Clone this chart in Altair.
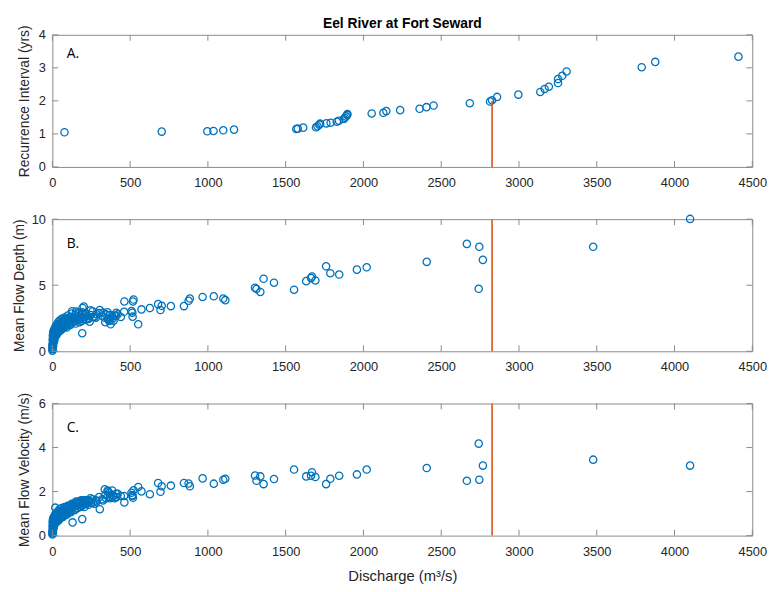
import altair as alt
import pandas as pd

# ---------------- data ----------------
chart_title = "Eel River at Fort Seward"
x_ticks = [0, 500, 1000, 1500, 2000, 2500, 3000, 3500, 4000, 4500]

# Panel A: recurrence interval
ri_q = [78, 703, 996, 1036, 1099, 1168, 1568, 1578, 1613, 1695, 1705, 1716,
        1722, 1762, 1789, 1829, 1842, 1874, 1880, 1888, 1895, 1897, 2053,
        2128, 2147, 2236, 2361, 2405, 2451, 2684, 2814, 2827, 2859, 2996,
        3137, 3165, 3192, 3251, 3251, 3278, 3306, 3789, 3876, 4411]
ri_yrs = [1.05, 1.07, 1.08, 1.09, 1.11, 1.13, 1.15, 1.16, 1.19, 1.20, 1.23,
          1.28, 1.31, 1.32, 1.34, 1.37, 1.40, 1.45, 1.49, 1.53, 1.57, 1.60,
          1.62, 1.64, 1.69, 1.72, 1.76, 1.81, 1.86, 1.93, 1.98, 2.02, 2.12,
          2.19, 2.27, 2.36, 2.43, 2.54, 2.66, 2.76, 2.89, 3.02, 3.18, 3.34]

# Panels B and C: hydraulic geometry measurements
q_meas = [4100, 3477, 2768, 2745, 2741, 2665, 2407,
          2021, 1958, 1844, 1787, 1760, 1691, 1669, 1663, 1632, 1554, 1425,
          1358, 1337, 1312, 1303, 1112, 1099, 1038, 966, 884, 876, 846, 762,
          703, 695, 680, 627, 573, 552, 522, 518, 514, 516, 509, 463, 461,
          0.5, 1, 1.5, 2, 2.5, 3, 4, 5, 6, 7, 8, 9, 10, 11, 12, 13, 14, 15,
          16, 17, 18, 19, 20, 22, 24, 26, 28, 30, 32, 34, 36, 38, 40, 42, 44,
          46, 48, 50, 53, 56, 59, 62, 65, 68, 71, 74, 77, 80, 84, 88, 92, 96,
          100, 105, 110, 115, 120, 126, 130, 135, 140, 145, 150, 155, 160,
          165, 170, 175, 180, 185, 190, 192, 194, 198, 200, 202, 206, 210,
          215, 220, 230, 240, 248, 259, 270, 285, 305, 326, 337, 345, 358,
          365, 373, 375, 385, 394, 400, 411, 420, 440]
depth_m = [10.02, 7.91, 6.92, 7.91, 4.73, 8.13, 6.77,
           6.36, 6.18, 5.81, 5.91, 6.43, 5.36, 5.66, 5.54, 5.31, 4.66, 5.19,
           5.49, 4.49, 4.71, 4.81, 3.87, 3.99, 4.16, 4.11, 3.99, 3.82, 3.42,
           3.42, 3.44, 3.12, 3.57, 3.27, 3.17, 2.04, 3.92, 3.77, 2.92, 2.62,
           3.04, 3.77, 2.99,
           0.05, 0.15, 0.30, 0.45, 0.20, 0.60, 0.75, 0.50, 0.90, 1.00, 0.70,
           1.10, 1.20, 0.90, 1.30, 1.05, 1.40, 1.20, 1.50, 1.30, 1.55, 1.10,
           1.60, 1.40, 1.70, 1.50, 1.75, 1.30, 1.80, 1.60, 1.90, 1.45, 1.85,
           1.70, 2.00, 1.55, 1.95, 1.80, 2.10, 1.65, 2.05, 1.90, 2.20, 1.75,
           2.15, 2.00, 2.40, 1.85, 2.25, 2.10, 2.50, 1.95, 2.30, 2.15, 2.55,
           2.00, 2.40, 3.03, 2.20, 2.60, 2.30, 2.75, 2.10, 2.50, 2.35, 2.85,
           2.45, 2.20, 2.70, 2.55, 2.30, 1.37, 3.28, 2.60, 2.45, 3.38, 2.75,
           2.90, 2.40, 2.65, 2.50, 2.24, 2.74, 3.02, 2.60, 2.80, 3.12, 2.94,
           2.55, 2.79, 2.45, 2.30, 2.39, 2.04, 2.70, 2.32, 2.69, 2.92, 2.80,
           2.60]
velocity_ms = [3.18, 3.45, 3.18, 2.54, 4.18, 2.49, 3.07,
               3.00, 2.78, 2.72, 2.58, 2.34, 2.66, 2.88, 2.72, 2.69, 3.00,
               2.57, 2.34, 2.69, 2.49, 2.73, 2.58, 2.54, 2.36, 2.60, 2.24,
               2.37, 2.39, 2.27, 2.24, 1.99, 2.39, 1.88, 2.01, 2.21, 2.06,
               1.72, 1.84, 1.80, 1.95, 1.51, 1.80,
               0.05, 0.10, 0.15, 0.20, 0.30, 0.25, 0.35, 0.40, 0.30, 0.45,
               0.50, 0.40, 0.55, 0.60, 0.50, 0.65, 0.55, 0.70, 0.60, 0.75,
               0.65, 1.27, 0.70, 0.80, 0.70, 0.85, 0.75, 0.90, 0.65, 0.85,
               0.95, 0.80, 1.00, 0.75, 0.90, 1.00, 0.85, 1.05, 0.95, 1.10,
               0.90, 1.00, 1.15, 0.85, 1.05, 1.20, 0.95, 1.10, 1.25, 1.00,
               1.15, 1.30, 1.05, 1.20, 1.35, 1.10, 1.25, 1.40, 0.60, 1.30,
               1.45, 1.20, 1.35, 1.50, 1.25, 1.40, 1.55, 1.30, 1.45, 1.60,
               1.35, 0.75, 1.50, 1.60, 1.40, 1.55, 1.30, 1.50, 1.60, 1.45,
               1.60, 1.57, 1.50, 1.65, 1.45, 1.55, 1.20, 1.60, 2.10, 1.70,
               2.00, 1.95, 1.75, 1.85, 2.05, 1.80, 1.70, 1.75, 1.90, 1.80]

# additional low-flow measurements (dense cluster near the origin)
q_low = [1, 2, 3, 4, 5, 6, 8, 10, 12, 15, 18, 21, 25, 29, 33, 37, 41, 45, 49,
         55, 60, 66, 72, 78, 85, 92, 99, 107, 116, 125, 134, 143, 152, 161,
         170, 180, 190, 205, 218, 232, 245, 260, 280, 300, 320, 340, 355, 370,
         390, 410]
depth_low = [0.5, 0.9, 1.2, 0.35, 1.4, 1.1, 1.5, 1.6, 0.8, 1.7, 1.45, 1.9,
             1.25, 2.05, 1.65, 2.2, 1.5, 2.3, 2.1, 1.6, 2.45, 2.25, 1.9, 2.55,
             2.35, 1.8, 2.7, 2.45, 2.05, 2.85, 2.55, 2.25, 3.0, 2.65, 2.9, 2.4,
             2.95, 2.6, 2.85, 2.45, 3.1, 2.6, 2.55, 2.9, 2.7, 2.2, 2.95, 2.75,
             2.5, 2.7]
velocity_low = [0.45, 0.6, 0.7, 0.15, 0.75, 0.65, 0.8, 0.85, 0.5, 0.9, 0.7,
                1.0, 0.6, 1.05, 0.8, 1.1, 0.7, 1.2, 1.0, 0.8, 1.25, 1.05, 0.9,
                1.3, 1.15, 0.95, 1.35, 1.2, 1.05, 1.45, 1.3, 1.15, 1.55, 1.4,
                1.5, 1.3, 1.55, 1.45, 1.6, 1.4, 1.7, 1.5, 1.6, 1.75, 1.65,
                1.85, 2.05, 1.7, 1.8, 1.9]

two_year_q = [2827]
two_year_ri = [2.0]

# ---------------- style ----------------
W, H = 710, 134
TL = 6
FRAME = "#8a8a8a"
TXT = "#262626"
BLUE = "#0072BD"
ORANGE = "#D95319"
FONT = "Liberation Sans"


def make_panel(pts, y_ticks, y_title, title_x, label, label_y, red_df, red_span,
               x_title=None, top_title=None):
    xscale = alt.Scale(domain=[0, 4500], nice=False, zero=False)
    yscale = alt.Scale(domain=[y_ticks[0], y_ticks[-1]], nice=False, zero=False)
    xkw = dict(values=x_ticks, format="d", ticks=False, domain=False,
               grid=False, labelPadding=10, labelFlush=False, labelFont=FONT,
               labelFontSize=13, labelColor=TXT)
    if x_title:
        xaxis = alt.Axis(title=x_title, titleY=46, titleBaseline="alphabetic",
                         titleFont=FONT, titleFontSize=15,
                         titleFontWeight="normal", titleColor=TXT, **xkw)
    else:
        xaxis = alt.Axis(title=None, **xkw)
    yaxis = alt.Axis(title=y_title, values=y_ticks, format="d", ticks=False,
                     domain=False, grid=False, labelPadding=7, labelFont=FONT,
                     labelFontSize=13, labelColor=TXT, titleX=title_x,
                     titleY=H / 2, titleBaseline="alphabetic", titleFont=FONT,
                     titleFontSize=14, titleFontWeight="normal",
                     titleColor=TXT)

    X = alt.X("q:Q", scale=xscale, axis=xaxis)
    Y = alt.Y("val:Q", scale=yscale, axis=yaxis)

    points = alt.Chart(pts).mark_point(
        shape="circle", filled=False, size=55, strokeWidth=1.3,
        color=BLUE, opacity=1
    ).encode(x=X, y=Y)

    if red_span:
        red = alt.Chart(red_df).mark_rule(color=ORANGE, strokeWidth=1.6).encode(
            x=X, y=Y, y2="val2:Q")
    else:
        red = alt.Chart(red_df).mark_rule(color=ORANGE, strokeWidth=1.6).encode(
            x=X)

    xdf = pd.DataFrame({"q": x_ticks})
    ydf = pd.DataFrame({"val": y_ticks})
    tick_top = alt.Chart(xdf).mark_rule(color=FRAME, strokeWidth=1).encode(
        x=X, y=alt.value(0), y2=alt.value(TL))
    tick_bot = alt.Chart(xdf).mark_rule(color=FRAME, strokeWidth=1).encode(
        x=X, y=alt.value(H), y2=alt.value(H - TL))
    tick_left = alt.Chart(ydf).mark_rule(color=FRAME, strokeWidth=1).encode(
        y=Y, x=alt.value(0), x2=alt.value(TL))
    tick_right = alt.Chart(ydf).mark_rule(color=FRAME, strokeWidth=1).encode(
        y=Y, x=alt.value(W), x2=alt.value(W - TL))

    lab = alt.Chart(pd.DataFrame({"lab": [label]})).mark_text(
        align="left", baseline="alphabetic", font="Open Sans", fontSize=14,
        color="#000000"
    ).encode(x=alt.value(14.5), y=alt.value(label_y), text="lab:N")

    layers = [points, red, tick_top, tick_bot, tick_left, tick_right, lab]
    if top_title:
        ttl = alt.Chart(pd.DataFrame({"ttl": [top_title]})).mark_text(
            align="center", baseline="alphabetic", font=FONT, fontSize=14,
            fontWeight="bold", color="#000000"
        ).encode(x=alt.value(W / 2), y=alt.value(-6.5), text="ttl:N")
        layers.append(ttl)

    return alt.layer(*layers).properties(width=W, height=H)


ptsA = pd.DataFrame({"q": ri_q, "val": ri_yrs})
ptsB = pd.DataFrame({"q": q_meas + q_low, "val": depth_m + depth_low})
ptsC = pd.DataFrame({"q": q_meas + q_low, "val": velocity_ms + velocity_low})

redA = pd.DataFrame({"q": two_year_q, "val": [0.0], "val2": two_year_ri})
redBC = pd.DataFrame({"q": two_year_q})

panelA = make_panel(ptsA, [0, 1, 2, 3, 4], "Recurrence Interval (yrs)", -24.5,
                    "A.", 24, redA, True, top_title=chart_title)
panelB = make_panel(ptsB, [0, 5, 10], "Mean Flow Depth (m)", -29.5,
                    "B.", 29, redBC, False)
panelC = make_panel(ptsC, [0, 2, 4, 6], "Mean Flow Velocity (m/s)", -24,
                    "C.", 29, redBC, False, x_title="Discharge (m³/s)")

chart = alt.vconcat(panelA, panelB, panelC, spacing=53, bounds="flush").properties(
    padding={"left": 3, "top": 5, "right": 5, "bottom": 5},
    background="white",
).configure_view(stroke=FRAME, strokeWidth=1)

chart.save("out.html", embed_options={"renderer": "svg", "actions": False})
